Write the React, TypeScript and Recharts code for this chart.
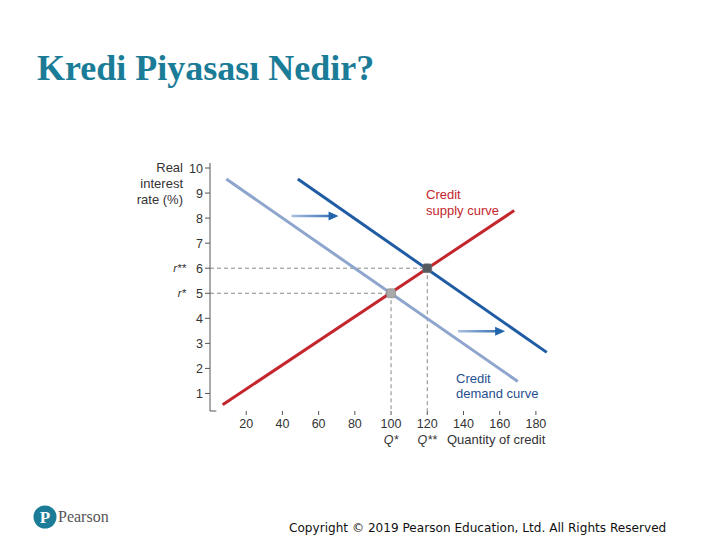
import React from "react"
import { ComposedChart, Line, Scatter, XAxis, YAxis, ReferenceLine } from "recharts"

const xTicks = [20, 40, 60, 80, 100, 120, 140, 160, 180]
const yTicks = [1, 2, 3, 4, 5, 6, 7, 8, 9, 10]

const supplyCurve = [
  { q: 7, r: 0.55 },
  { q: 168, r: 8.3 },
]
const demandCurve = [
  { q: 9, r: 9.56 },
  { q: 170, r: 1.48 },
]
const newDemandCurve = [
  { q: 48.5, r: 9.56 },
  { q: 186, r: 2.64 },
]
const equilibria = [
  { q: 100, r: 5, fill: "#a9a9a9" },
  { q: 120, r: 6, fill: "#555a60" },
]
const shiftArrows = [
  { from: 45, to: 71, r: 8.08 },
  { from: 137, to: 163, r: 3.48 },
]
const qLabels: Record<number, string> = { 100: "Q*", 120: "Q**" }
const rLabels: Record<number, string> = { 5: "r*", 6: "r**" }

const font = "'Liberation Sans', Arial, sans-serif"

const XTick = ({ x, y, payload }: any) => (
  <g>
    <text x={x} y={y + 11} textAnchor="middle" fontSize={12.5} fill="#333" fontFamily={font}>
      {payload.value}
    </text>
    {qLabels[payload.value] && (
      <text x={x} y={y + 27} textAnchor="middle" fontSize={12.5} fill="#333" fontFamily={font} fontStyle="italic">
        {qLabels[payload.value]}
      </text>
    )}
  </g>
)

const YTick = ({ x, y, payload }: any) => (
  <g>
    <text x={x} y={y + 4.5} textAnchor="end" fontSize={12.5} fill="#333" fontFamily={font}>
      {payload.value}
    </text>
    {rLabels[payload.value] && (
      <text x={x - 17} y={y + 4} textAnchor="end" fontSize={11.5} fill="#333" fontFamily={font} fontStyle="italic">
        {rLabels[payload.value]}
      </text>
    )}
  </g>
)

const Arrow = ({ x1, y1, x2, y2 }: any) => {
  const id = `ag${Math.round(y1)}`
  return (
    <g>
      <defs>
        <linearGradient id={id} gradientUnits="userSpaceOnUse" x1={x1} x2={x2} y1={y1} y2={y2}>
          <stop offset="0%" stopColor="#a9bfe0" />
          <stop offset="100%" stopColor="#2466ad" />
        </linearGradient>
      </defs>
      <line x1={x1} y1={y1} x2={x2 - 7} y2={y2} stroke={`url(#${id})`} strokeWidth={2.5} />
      <polygon points={`${x2},${y2} ${x2 - 10},${y2 - 4.5} ${x2 - 10},${y2 + 4.5}`} fill="#2466ad" />
    </g>
  )
}

const EqPoint = ({ cx, cy, payload }: any) => (
  <rect x={cx - 4.5} y={cy - 4.5} width={9} height={9} rx={2} fill={payload.fill} stroke="#777" strokeWidth={0.5} />
)

export default function App() {
  return (
    <div style={{ position: "absolute", left: 0, top: 0, width: 720, height: 540, background: "#fff", overflow: "hidden" }}>
      <div
        style={{
          position: "absolute",
          left: 37,
          top: 47,
          fontFamily: "'Liberation Serif', 'Times New Roman', serif",
          fontWeight: "bold",
          fontSize: 36,
          color: "#1a7c97",
          whiteSpace: "nowrap",
        }}
      >
        Kredi Piyasası Nedir?
      </div>

      <div style={{ position: "absolute", left: 0, top: 0 }}>
        <ComposedChart width={720} height={540} margin={{ top: 163, right: 166, bottom: 100, left: 170 }}>
          <XAxis
            type="number"
            dataKey="q"
            domain={[0, 190]}
            ticks={xTicks}
            axisLine={false}
            tickLine={{ stroke: "#555" }}
            tickSize={4}
            height={29}
            tick={<XTick />}
          />
          <YAxis
            type="number"
            dataKey="r"
            domain={[0.3, 10.2]}
            ticks={yTicks}
            axisLine={{ stroke: "#555" }}
            tickLine={{ stroke: "#555" }}
            tickSize={5}
            width={40}
            tick={<YTick />}
          />
          <ReferenceLine segment={[{ x: 0, y: 6 }, { x: 120, y: 6 }]} stroke="#888" strokeDasharray="4 3" />
          <ReferenceLine segment={[{ x: 0, y: 5 }, { x: 100, y: 5 }]} stroke="#888" strokeDasharray="4 3" />
          <ReferenceLine segment={[{ x: 100, y: 5 }, { x: 100, y: 0.3 }]} stroke="#888" strokeDasharray="4 3" />
          <ReferenceLine segment={[{ x: 120, y: 6 }, { x: 120, y: 0.3 }]} stroke="#888" strokeDasharray="4 3" />
          <ReferenceLine segment={[{ x: 0, y: 0.3 }, { x: 3.5, y: 0.3 }]} stroke="#555" />
          {shiftArrows.map((a, i) => (
            <ReferenceLine
              key={i}
              segment={[{ x: a.from, y: a.r }, { x: a.to, y: a.r }]}
              shape={(p: any) => <Arrow {...p} />}
            />
          ))}
          <Line data={demandCurve} dataKey="r" stroke="#8ea5cd" strokeWidth={3} dot={false} isAnimationActive={false} />
          <Line data={newDemandCurve} dataKey="r" stroke="#1f5ca3" strokeWidth={3} dot={false} isAnimationActive={false} />
          <Line data={supplyCurve} dataKey="r" stroke="#c4262e" strokeWidth={3} dot={false} isAnimationActive={false} />
          <Scatter data={equilibria} dataKey="r" shape={<EqPoint />} isAnimationActive={false} />
        </ComposedChart>
      </div>

      <div style={{ position: "absolute", left: 110, top: 160, width: 73, textAlign: "right", fontFamily: font, fontSize: 13, lineHeight: "16px", color: "#333" }}>
        Real
        <br />
        interest
        <br />
        rate (%)
      </div>
      <div style={{ position: "absolute", left: 447, top: 432, fontFamily: font, fontSize: 13, color: "#333", whiteSpace: "nowrap" }}>
        Quantity of credit
      </div>
      <div style={{ position: "absolute", left: 426, top: 187, fontFamily: font, fontSize: 13, lineHeight: "16px", color: "#c4262e" }}>
        Credit
        <br />
        supply curve
      </div>
      <div style={{ position: "absolute", left: 456, top: 371, fontFamily: font, fontSize: 13, lineHeight: "15px", color: "#1f4f8f" }}>
        Credit
        <br />
        demand curve
      </div>

      <svg style={{ position: "absolute", left: 33, top: 505 }} width={24} height={24}>
        <circle cx={12} cy={12} r={11.5} fill="#1a7c97" />
        <text x={12} y={18} textAnchor="middle" fontSize={17} fontWeight="bold" fill="#fff" fontFamily="'Liberation Serif', serif">
          P
        </text>
      </svg>
      <div style={{ position: "absolute", left: 58, top: 508, fontFamily: "'Liberation Serif', serif", fontSize: 16, color: "#555" }}>
        Pearson
      </div>
      <div style={{ position: "absolute", left: 289, top: 521, fontFamily: "'DejaVu Sans', Verdana, sans-serif", fontSize: 12.1, color: "#111", whiteSpace: "nowrap" }}>
        Copyright © 2019 Pearson Education, Ltd. All Rights Reserved
      </div>
    </div>
  )
}
